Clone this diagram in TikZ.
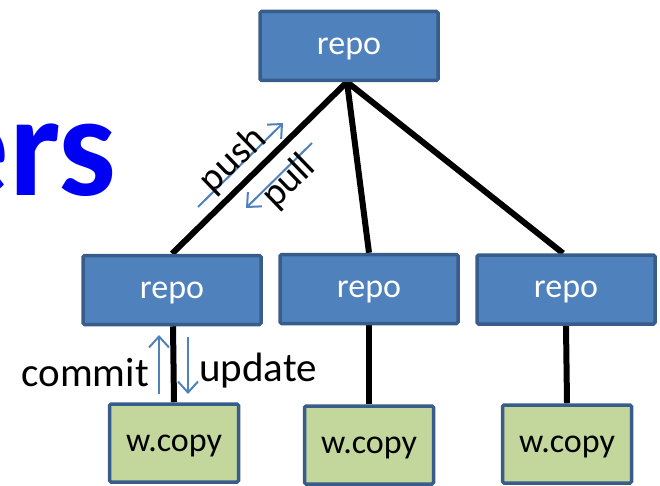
\documentclass[tikz,border=0pt]{standalone}
\usepackage{fontspec}
\setmainfont{Carlito}
\usetikzlibrary{arrows.meta,backgrounds}
\definecolor{repofill}{RGB}{79,129,189}
\definecolor{boxedge}{RGB}{56,93,138}
\definecolor{wcfill}{RGB}{195,214,155}
\definecolor{arrowblue}{RGB}{79,129,189}
\definecolor{titleblue}{RGB}{0,0,245}
\tikzset{
  repobox/.style={draw=boxedge, line width=3.5pt, fill=repofill, rounded corners=1.5pt,
    minimum width=178pt, minimum height=69pt, inner sep=0pt, text=white, text depth=0pt,
    font=\fontsize{34}{40}\selectfont},
  wcbox/.style={draw=boxedge, line width=3.5pt, fill=wcfill, rounded corners=1.5pt,
    minimum width=129pt, minimum height=78pt, inner sep=0pt, text=black, text depth=0pt,
    font=\fontsize{34}{40}\selectfont},
  link/.style={line width=6pt, black},
  flow/.style={line width=2pt, arrowblue, -{Straight Barb[length=11pt,width=20pt,line width=2pt]}},
  lbl/.style={inner sep=0pt, font=\fontsize{41}{48}\selectfont},
  slbl/.style={inner sep=0pt, font=\fontsize{39}{44}\selectfont, rotate=44}
}
\begin{document}
\begin{tikzpicture}[x=1pt,y=-1pt]
\useasboundingbox (0,0) rectangle (660,486);
\node[anchor=base east, inner sep=0pt, text=titleblue, font=\fontsize{145}{160}\bfseries\selectfont] (title) at (117,196) {ers};
% boxes
\node[repobox] (top) at (349,46) {repo};
\node[repobox] (r1) at (172,290) {repo};
\node[repobox] (r2) at (369,289) {repo};
\node[repobox] (r3) at (566,289.5) {repo};
\node[wcbox] (w1) at (174,443) {w.copy};
\node[wcbox] (w2) at (369,445) {w.copy};
\node[wcbox] (w3) at (567,444) {w.copy};
% connectors
\coordinate (apex) at (347,82);
\begin{scope}[on background layer]
\draw[link] (apex) -- (r1.north);
\draw[link] (apex) -- (r2.north);
\draw[link] (apex) -- ([xshift=-3pt]r3.north);
\draw[link] ([xshift=1pt]r1.south) -- (w1.north);
\draw[link] (r2.south) -- (w2.north);
\draw[link] (r3.south) -- (w3.north);
\end{scope}
% flow arrows
\coordinate (pushA) at (198,207);
\coordinate (pushB) at (283,123);
\coordinate (pullA) at (312,143);
\coordinate (pullB) at (246,208);
\coordinate (comA) at (159,394);
\coordinate (comB) at (159,335);
\coordinate (updA) at (188,337);
\coordinate (updB) at (188,394);
\draw[flow] (pushA) -- (pushB);
\draw[flow] (pullA) -- (pullB);
\draw[flow] (comA) -- (comB);
\draw[flow] (updA) -- (updB);
% labels
\node[slbl] (push) at (233,160) {push};
\node[slbl] (pull) at (289,182) {pull};
\node[lbl, anchor=east] (commit) at (149,373) {commit};
\node[lbl, anchor=west] (update) at (199,371) {update};
\end{tikzpicture}
\end{document}
